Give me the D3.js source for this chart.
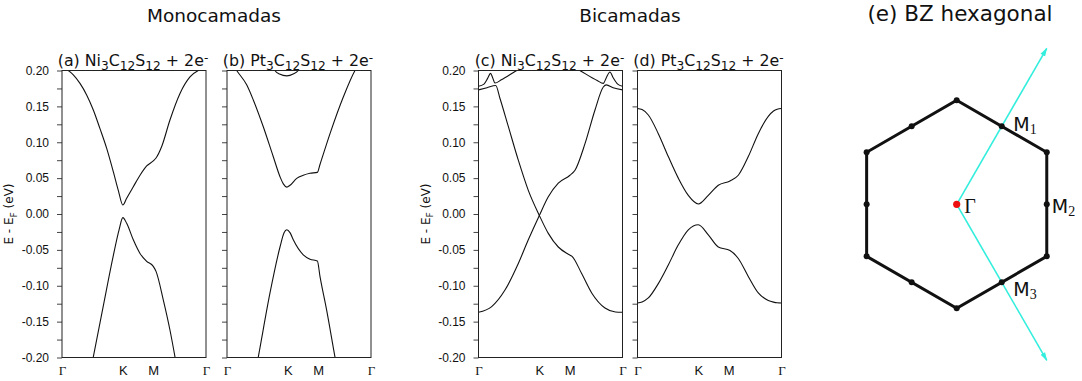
<!DOCTYPE html>
<html><head><meta charset="utf-8">
<script src="https://cdn.jsdelivr.net/npm/d3@7"></script>
<style>html,body{margin:0;padding:0;background:#fff;} svg{display:block;}</style>
</head><body>
<svg id="chart" width="1082" height="381"></svg>
<script>
// ---------- data ----------
const kLabels = ["Γ", "K", "M", "Γ"];
const kPositions = [0, 1.3333, 2.0, 3.1547];
const yMajorTicks = [-0.20, -0.15, -0.10, -0.05, 0.00, 0.05, 0.10, 0.15, 0.20];
const yMinorTicks = [-0.175, -0.125, -0.075, -0.025, 0.025, 0.075, 0.125, 0.175];
const groupTitles = ["Monocamadas", "Bicamadas", "(e) BZ hexagonal"];
const yAxisLabel = ["E - E", "F", " (eV)"];

// (a) Ni3C12S12 + 2e- monolayer  [k, E (eV)]
const aCond = [[0,0.202],[0.12,0.2005],[0.248,0.194],[0.394,0.182],[0.54,0.166],[0.686,0.145],[0.832,0.119],[0.979,0.0915],[1.124,0.059],[1.233,0.033],[1.333,0.0125],[1.417,0.022],[1.562,0.038],[1.709,0.054],[1.855,0.067],[2.0,0.074],[2.06,0.078],[2.184,0.094],[2.365,0.131],[2.585,0.168],[2.804,0.191],[2.986,0.2],[3.1547,0.203]];
const aVal = [[0.5,-0.26],[0.686,-0.199],[0.905,-0.128],[1.124,-0.058],[1.25,-0.022],[1.333,-0.005],[1.417,-0.013],[1.562,-0.036],[1.709,-0.055],[1.855,-0.066],[2.0,-0.073],[2.06,-0.08],[2.22,-0.12],[2.366,-0.162],[2.475,-0.199],[2.6,-0.245]];
// (b) Pt3C12S12 + 2e- monolayer
const bCond = [[0,0.222],[0.212,0.2],[0.431,0.18],[0.576,0.159],[0.795,0.1216],[1.014,0.0798],[1.161,0.052],[1.234,0.042],[1.31,0.0375],[1.38,0.040],[1.527,0.0497],[1.671,0.054],[1.818,0.0567],[1.98,0.058],[2.037,0.069],[2.257,0.112],[2.548,0.163],[2.804,0.2],[2.95,0.214],[3.1547,0.222]];
const bUpper = [[0.98,0.21],[1.05,0.2],[1.15,0.195],[1.31,0.1925],[1.45,0.195],[1.56,0.2],[1.64,0.21]];
const bVal = [[0.55,-0.245],[0.686,-0.199],[0.942,-0.110],[1.161,-0.046],[1.25,-0.026],[1.31,-0.022],[1.38,-0.026],[1.452,-0.036],[1.671,-0.057],[1.818,-0.063],[1.98,-0.0655],[2.037,-0.087],[2.183,-0.134],[2.365,-0.199],[2.5,-0.245]];
// (c) Ni3C12S12 + 2e- bilayer
const cBandA = [[0,0.173],[0.186,0.176],[0.377,0.179],[0.471,0.161],[0.653,0.122],[0.872,0.075],[1.091,0.033],[1.333,-0.002],[1.529,-0.027],[1.748,-0.046],[1.967,-0.056],[2.05,-0.059],[2.26,-0.083],[2.48,-0.11],[2.771,-0.131],[3.0,-0.1365],[3.1547,-0.137]];
const cBandB = [[0,-0.137],[0.289,-0.129],[0.58,-0.106],[0.872,-0.069],[1.091,-0.036],[1.333,-0.002],[1.529,0.024],[1.748,0.043],[2.004,0.054],[2.114,0.061],[2.333,0.098],[2.552,0.145],[2.734,0.177],[2.80,0.180],[2.95,0.176],[3.1547,0.173]];
const cBandC = [[0,0.178],[0.12,0.181],[0.2,0.189],[0.263,0.196],[0.31,0.19],[0.361,0.1825],[0.5,0.187],[0.837,0.2],[1.1,0.209],[1.6,0.213],[2.0,0.208],[2.22,0.2],[2.6,0.186],[2.734,0.182],[2.80,0.19],[2.88,0.198],[2.95,0.19],[3.05,0.181],[3.1547,0.178]];
// (d) Pt3C12S12 + 2e- bilayer
const dCond = [[0,0.147],[0.1,0.1455],[0.237,0.138],[0.456,0.112],[0.675,0.080],[0.894,0.050],[1.113,0.026],[1.333,0.014],[1.551,0.026],[1.77,0.040],[2.026,0.046],[2.208,0.054],[2.427,0.080],[2.646,0.112],[2.865,0.136],[2.98,0.1435],[3.06,0.146],[3.1547,0.147]];
const dVal = [[0,-0.124],[0.1,-0.1225],[0.237,-0.117],[0.456,-0.097],[0.675,-0.071],[0.894,-0.043],[1.113,-0.022],[1.333,-0.015],[1.551,-0.029],[1.77,-0.046],[2.026,-0.051],[2.208,-0.062],[2.427,-0.087],[2.646,-0.110],[2.865,-0.1205],[2.98,-0.1228],[3.06,-0.1237],[3.1547,-0.124]];

// (e) hexagonal Brillouin zone (units of |ΓK|)
const bzVertices = [[0,1],[0.866,0.5],[0.866,-0.5],[0,-1],[-0.866,-0.5],[-0.866,0.5]];
const bzLabels = [["M","1"],["M","2"],["M","3"]];
const bzLabelPoints = [[0.433,0.75],[0.866,0],[0.433,-0.75]];
const recipVectors = [[0.866,1.5],[0.866,-1.5]];

// ---------- drawing ----------
(function () {
const svg = d3.select("#chart");
const FONT = "'DejaVu Sans', sans-serif";
const TICKFONT = "'Liberation Sans', Arial, sans-serif";
const SERIF = "'Liberation Serif', 'Times New Roman', serif";

function richText(sel, parts, mainSize, subSize, subFont) {
  let shift = 0;
  parts.forEach(([t, kind]) => {
    const target = kind === "sub" ? 3.5 : kind === "sup" ? -4 : 0;
    const ts = sel.append("tspan").attr("dy", target - shift)
      .style("font-size", (kind ? subSize : mainSize) + "px").text(t);
    if (kind && subFont) ts.style("font-family", subFont);
    shift = target;
  });
}

const panelW = 144, plotTop = 70.5, plotBottom = 357.5;
const y = d3.scaleLinear().domain([-0.2, 0.2]).range([plotBottom, plotTop]);

const panels = [
  {id: "a", left: 62, bands: [aCond, aVal], showY: true, metal: "Ni", label: "(a) "},
  {id: "b", left: 227, bands: [bCond, bUpper, bVal], showY: false, metal: "Pt", label: "(b) "},
  {id: "c", left: 478.5, bands: [cBandA, cBandB, cBandC], showY: true, metal: "Ni", label: "(c) "},
  {id: "d", left: 637.5, bands: [dCond, dVal], showY: false, metal: "Pt", label: "(d) "}
];

panels.forEach(p => {
  const x = d3.scaleLinear().domain([0, kPositions[3]]).range([p.left, p.left + panelW]);
  const g = svg.append("g");
  g.append("clipPath").attr("id", "clip-" + p.id).append("rect")
    .attr("x", p.left).attr("y", plotTop).attr("width", panelW).attr("height", plotBottom - plotTop);

  const allTicks = yMajorTicks.concat(yMinorTicks);
  const ya = d3.axisLeft(y).tickValues(allTicks).tickSize(5).tickPadding(8)
    .tickFormat(d => (p.showY && yMajorTicks.includes(d)) ? d.toFixed(2) : "");
  const yg = g.append("g").attr("transform", `translate(${p.left},0)`).call(ya);
  yg.select(".domain").remove();
  yg.selectAll("line").attr("stroke", "#444");
  yg.selectAll("text").style("font-family", TICKFONT).style("font-size", "12px").attr("fill", "#111");

  const xa = d3.axisBottom(x).tickValues(kPositions).tickSize(0).tickPadding(8.5)
    .tickFormat((d, i) => kLabels[i]);
  const xg = g.append("g").attr("transform", `translate(0,${plotBottom})`).call(xa);
  xg.select(".domain").remove();
  xg.selectAll("text").style("font-size", "13px").attr("fill", "#111")
    .style("font-family", (d, i) => kLabels[i] === "Γ" ? SERIF : TICKFONT);

  const line = d3.line().x(d => x(d[0])).y(d => y(d[1])).curve(d3.curveMonotoneX);
  g.append("g").attr("clip-path", `url(#clip-${p.id})`)
    .selectAll("path").data(p.bands).join("path")
    .attr("d", line).attr("fill", "none").attr("stroke", "#111").attr("stroke-width", 1.1);

  g.append("rect").attr("x", p.left).attr("y", plotTop).attr("width", panelW).attr("height", plotBottom - plotTop)
    .attr("fill", "none").attr("stroke", "#222").attr("stroke-width", 1);

  const t = g.append("text").attr("x", p.left + panelW / 2 - 1).attr("y", 66)
    .attr("text-anchor", "middle").style("font-family", FONT).attr("fill", "#111");
  richText(t, [[p.label + p.metal, ""], ["3", "sub"], ["C", ""], ["12", "sub"], ["S", ""], ["12", "sub"], [" + 2e", ""], ["-", "sup"]], 15.8, 12.2);

  if (p.showY) {
    const yl = g.append("text").attr("transform", `translate(${p.left - 49},${(plotTop + plotBottom) / 2}) rotate(-90)`)
      .attr("text-anchor", "middle").style("font-family", FONT).attr("fill", "#111");
    richText(yl, [[yAxisLabel[0], ""], [yAxisLabel[1], "sub"], [yAxisLabel[2], ""]], 12, 9);
  }
});

const titlePos = [[214, 22], [630, 22], [960, 21]];
const titleSizes = [18.5, 18.5, 21.5];
groupTitles.forEach((tt, i) => {
  svg.append("text").attr("x", titlePos[i][0]).attr("y", titlePos[i][1]).attr("text-anchor", "middle")
    .style("font-family", FONT).style("font-size", titleSizes[i] + "px").attr("fill", "#111").text(tt);
});

// ---------- (e) Brillouin zone ----------
const R = 104;
const bx = d3.scaleLinear().domain([0, 1]).range([956.7, 956.7 + R]);
const by = d3.scaleLinear().domain([0, 1]).range([204.3, 204.3 - R]);
const bz = svg.append("g");
const cyan = "#33eedd";
svg.append("defs").append("marker").attr("id", "arrow").attr("viewBox", "0 -4 10 8")
  .attr("refX", 9).attr("refY", 0).attr("markerWidth", 9).attr("markerHeight", 7)
  .attr("markerUnits", "userSpaceOnUse").attr("orient", "auto")
  .append("path").attr("d", "M0,-3L10,0L0,3Z").attr("fill", cyan);

bz.append("path").datum(bzVertices)
  .attr("d", d3.line().x(d => bx(d[0])).y(d => by(d[1])).curve(d3.curveLinearClosed))
  .attr("fill", "none").attr("stroke", "#111").attr("stroke-width", 3).attr("stroke-linejoin", "miter");

bz.selectAll("line.recip").data(recipVectors).join("line").attr("class", "recip")
  .attr("x1", bx(0)).attr("y1", by(0)).attr("x2", d => bx(d[0])).attr("y2", d => by(d[1]))
  .attr("stroke", cyan).attr("stroke-width", 1.6).attr("marker-end", "url(#arrow)");

const mids = bzVertices.map((v, i) => {
  const w = bzVertices[(i + 1) % 6];
  return [(v[0] + w[0]) / 2, (v[1] + w[1]) / 2];
});
bz.selectAll("circle.pt").data(bzVertices.concat(mids)).join("circle").attr("class", "pt")
  .attr("cx", d => bx(d[0])).attr("cy", d => by(d[1])).attr("r", 3).attr("fill", "#111");
bz.append("circle").attr("cx", bx(0)).attr("cy", by(0)).attr("r", 3.6).attr("fill", "#ee1111");

const labelOffsets = [[11.6, 4.3], [5, 8.4], [11.6, 13.4]];
bzLabels.forEach((l, i) => {
  const t = bz.append("text").attr("x", bx(bzLabelPoints[i][0]) + labelOffsets[i][0])
    .attr("y", by(bzLabelPoints[i][1]) + labelOffsets[i][1])
    .style("font-family", FONT).attr("fill", "#111");
  richText(t, [[l[0], ""], [l[1], "sub"]], 19, 14, SERIF);
});
bz.append("text").attr("x", bx(0) + 7.5).attr("y", by(0) + 8.4)
  .style("font-family", SERIF).style("font-size", "20px").attr("fill", "#111").text("Γ");
})();
</script>
</body></html>
